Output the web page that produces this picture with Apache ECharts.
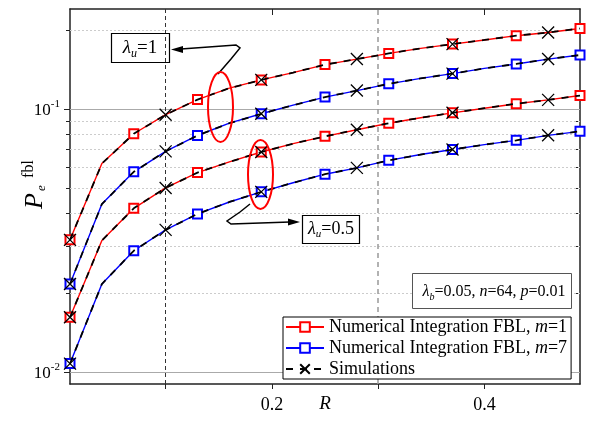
<!DOCTYPE html>
<html>
<head>
<meta charset="utf-8">
<script src="https://cdn.jsdelivr.net/npm/echarts@6/dist/echarts.min.js"></script>
<style>
  html, body { margin: 0; padding: 0; background: #fff; }
  #main { width: 589px; height: 422px; }
</style>
</head>
<body>
<div id="main"></div>
<script>
// rate R, sampled every 0.03
const rates = [0.01, 0.04, 0.07, 0.10, 0.13, 0.16, 0.19, 0.22, 0.25, 0.28, 0.31, 0.34, 0.37, 0.40, 0.43, 0.46, 0.49]

// numerical integration, lambda_u = 1
const numLu1M1 = [0.0318, 0.062, 0.0805, 0.0951, 0.1086, 0.120, 0.129, 0.1375, 0.1475, 0.1548, 0.1627, 0.170, 0.1765, 0.183, 0.190, 0.1954, 0.2023]
const numLu1M7 = [0.0216, 0.0435, 0.0577, 0.069, 0.0793, 0.0883, 0.0959, 0.1034, 0.111, 0.1175, 0.1246, 0.1308, 0.1363, 0.1427, 0.1483, 0.1548, 0.1604]
// numerical integration, lambda_u = 0.5
const numLu05M1 = [0.01614, 0.0316, 0.0419, 0.0501, 0.0573, 0.0629, 0.0686, 0.0738, 0.0787, 0.0834, 0.0883, 0.0926, 0.0967, 0.1007, 0.1047, 0.1083, 0.1125]
const numLu05M7 = [0.01076, 0.0216, 0.0289, 0.0347, 0.0399, 0.0443, 0.0484, 0.0524, 0.0565, 0.0597, 0.0638, 0.0671, 0.0701, 0.0732, 0.076, 0.0794, 0.0822]

// simulations sit on the same curves
const simLu1M1 = [0.0318, 0.062, 0.0805, 0.0951, 0.1086, 0.120, 0.129, 0.1375, 0.1475, 0.1548, 0.1627, 0.170, 0.1765, 0.183, 0.190, 0.1954, 0.2023]
const simLu1M7 = [0.0216, 0.0435, 0.0577, 0.069, 0.0793, 0.0883, 0.0959, 0.1034, 0.111, 0.1175, 0.1246, 0.1308, 0.1363, 0.1427, 0.1483, 0.1548, 0.1604]
const simLu05M1 = [0.01614, 0.0316, 0.0419, 0.0501, 0.0573, 0.0629, 0.0686, 0.0738, 0.0787, 0.0834, 0.0883, 0.0926, 0.0967, 0.1007, 0.1047, 0.1083, 0.1125]
const simLu05M7 = [0.01076, 0.0216, 0.0289, 0.0347, 0.0399, 0.0443, 0.0484, 0.0524, 0.0565, 0.0597, 0.0638, 0.0671, 0.0701, 0.0732, 0.076, 0.0794, 0.0822]

// axes
const xMin = 0.01, xMax = 0.49
const xTicks = [0.1, 0.2, 0.3, 0.4]
const xLabels = [0.2, 0.4]
const xDashed = [0.1, 0.3]
const yMin = 0.009, yMax = 0.24
const yMajor = [0.01, 0.1]
const yMinor = [0.02, 0.03, 0.04, 0.05, 0.06, 0.07, 0.08, 0.09, 0.2]

const legendNames = ['Numerical Integration FBL, m=1', 'Numerical Integration FBL, m=7', 'Simulations']

const SERIF = '"Liberation Serif", "Times New Roman", serif'
const CROSS = 'path://M0,0L10,10M10,0L0,10'

function numSeries(name, vals, color) {
  return {
    name: name,
    type: 'line',
    symbol: 'emptyRect',
    symbolSize: 9,
    z: 2,
    data: vals.map((v, i) => ({ value: [rates[i], v], symbol: i % 2 === 0 ? 'emptyRect' : 'none' })),
    lineStyle: { color: color, width: 1.4 },
    itemStyle: { color: color, borderWidth: 1.4 },
  }
}
function simSeries(vals) {
  return {
    name: 'Simulations',
    type: 'line',
    symbol: CROSS,
    symbolSize: 12,
    z: 3,
    data: vals.map((v, i) => ({ value: [rates[i], v], symbol: i % 3 === 0 ? CROSS : 'none' })),
    lineStyle: { color: '#000', width: 1.8, type: [7, 7] },
    itemStyle: { color: '#000', borderColor: '#000', borderWidth: 1.3 },
  }
}

// grid lines as mark lines, below the curves
let gridLines = []
yMajor.forEach((v) => gridLines.push({ yAxis: v, lineStyle: { color: '#aaa', width: 1, type: 'solid' } }))
yMinor.forEach((v) => gridLines.push({ yAxis: v, lineStyle: { color: '#ccc', width: 1, type: [2, 2] } }))
gridLines.push({ xAxis: xDashed[0], lineStyle: { color: '#333', width: 1, type: [4, 3] } })
gridLines.push({ xAxis: xDashed[1], lineStyle: { color: '#999', width: 1.5, type: [5, 4] } })

let series = [
  numSeries(legendNames[0], numLu1M1, '#ff0000'),
  numSeries(legendNames[1], numLu1M7, '#0000ff'),
  numSeries(legendNames[0], numLu05M1, '#ff0000'),
  numSeries(legendNames[1], numLu05M7, '#0000ff'),
  simSeries(simLu1M1),
  simSeries(simLu1M7),
  simSeries(simLu05M1),
  simSeries(simLu05M7),
]
series[0].markLine = {
  z: 1,
  silent: true,
  animation: false,
  symbol: ['none', 'none'],
  label: { show: false },
  data: gridLines,
}

function logAxis(pos, ticks, len, inside, showLine, showLabel) {
  return {
    type: 'log',
    logBase: 10,
    min: yMin,
    max: yMax,
    position: pos,
    axisLine: { show: showLine, onZero: false, lineStyle: { color: '#222', width: 1.5 } },
    axisTick: { show: true, inside: inside, length: len, customValues: ticks, lineStyle: { color: '#222', width: 1 } },
    axisLabel: {
      show: showLabel,
      customValues: ticks,
      margin: 10,
      formatter: (v) => '{b|10}{s|' + Math.round(Math.log10(v)) + '}',
      rich: {
        b: { fontFamily: SERIF, fontSize: 17, color: '#000', lineHeight: 20, verticalAlign: 'bottom' },
        s: { fontFamily: SERIF, fontSize: 11, color: '#000', lineHeight: 11, verticalAlign: 'top' },
      },
    },
    splitLine: { show: false },
    minorTick: { show: false },
    minorSplitLine: { show: false },
  }
}

var myChart = echarts.init(document.getElementById('main'))
let option = {
  animation: false,
  backgroundColor: '#fff',
  grid: { left: 70, right: 9, top: 9, bottom: 38, containLabel: false, outerBoundsMode: 'none' },
  xAxis: [
    {
      type: 'value',
      min: xMin,
      max: xMax,
      position: 'bottom',
      axisLine: { onZero: false, lineStyle: { color: '#222', width: 1.5 } },
      axisTick: { show: true, inside: false, length: 5, customValues: xTicks, lineStyle: { color: '#222' } },
      axisLabel: {
        customValues: xLabels,
        margin: 12,
        formatter: (v) => v.toFixed(1),
        fontFamily: SERIF,
        fontSize: 18,
        color: '#000',
      },
      splitLine: { show: false },
      name: 'R',
      nameLocation: 'middle',
      nameGap: 10,
      nameMoveOverlap: false,
      nameTextStyle: { fontFamily: SERIF, fontStyle: 'italic', fontSize: 19, color: '#000', verticalAlign: 'top' },
    },
    {
      type: 'value',
      min: xMin,
      max: xMax,
      position: 'top',
      axisLine: { onZero: false, lineStyle: { color: '#222', width: 1.5 } },
      axisTick: { show: true, inside: true, length: 6, customValues: xLabels, lineStyle: { color: '#222' } },
      axisLabel: { show: false },
      splitLine: { show: false },
    },
  ],
  yAxis: [
    logAxis('left', yMajor, 6, false, true, true),
    logAxis('left', yMinor, 4, false, false, false),
    logAxis('right', yMajor, 6, true, true, false),
    logAxis('right', yMinor, 4, true, false, false),
  ],
  legend: {
    orient: 'vertical',
    left: 283,
    top: 317,
    data: legendNames,
    itemWidth: 38,
    itemHeight: 12,
    itemGap: 3,
    padding: [1, 4, 1, 2],
    backgroundColor: '#fff',
    borderColor: '#000',
    borderWidth: 1,
    borderRadius: 0,
    selectedMode: false,
    formatter: (name) => {
      if (name === 'Simulations') return '{n|Simulations}'
      let m = name.split('m=')[1]
      return '{n|Numerical Integration FBL, }{i|m}{n|=' + m + '}'
    },
    textStyle: {
      color: '#000',
      fontFamily: SERIF,
      fontSize: 18,
      lineHeight: 18,
      rich: {
        n: { fontFamily: SERIF, fontSize: 18, color: '#000', lineHeight: 18 },
        i: { fontFamily: SERIF, fontSize: 18, fontStyle: 'italic', color: '#000', lineHeight: 18 },
      },
    },
  },
  graphic: [
    // y axis title P_e^fbl, rotated
    {
      type: 'group', x: 35, y: 185, rotation: Math.PI / 2, z: 10,
      children: [
        { type: 'text', x: -16, y: 0, style: { text: 'P', font: 'italic 26px ' + SERIF, fill: '#000', align: 'center', verticalAlign: 'middle' } },
        { type: 'text', x: -3, y: 7, style: { text: 'e', font: 'italic 13px ' + SERIF, fill: '#000', align: 'center', verticalAlign: 'middle' } },
        { type: 'text', x: 16, y: -6, style: { text: 'fbl', font: '16px ' + SERIF, fill: '#000', align: 'center', verticalAlign: 'middle' } },
      ],
    },
    // lambda_u = 1 note
    { type: 'rect', z: 10, shape: { x: 111.5, y: 33.5, width: 58, height: 29 }, style: { fill: 'none', stroke: '#000', lineWidth: 1.2 } },
    {
      type: 'text', z: 10, x: 140, y: 48,
      style: {
        text: '{l|λ}{s|u}{n|=1}', align: 'center', verticalAlign: 'middle',
        rich: {
          l: { font: 'italic 19px ' + SERIF, fill: '#000', lineHeight: 24 },
          s: { font: 'italic 12px ' + SERIF, fill: '#000', lineHeight: 12, verticalAlign: 'bottom' },
          n: { font: '19px ' + SERIF, fill: '#000', lineHeight: 24 },
        },
      },
    },
    { type: 'polyline', z: 10, shape: { points: [[218, 74], [231, 59], [240, 48], [236, 45], [181, 49]] }, style: { fill: 'none', stroke: '#000', lineWidth: 1.5 } },
    { type: 'polygon', z: 10, shape: { points: [[171, 49.5], [183, 46], [183, 53]] }, style: { fill: '#000' } },
    { type: 'ellipse', z: 10, shape: { cx: 220.5, cy: 107, rx: 12.5, ry: 35 }, style: { fill: 'none', stroke: '#f00', lineWidth: 2 } },
    { type: 'ellipse', z: 10, shape: { cx: 260.5, cy: 174.5, rx: 12.5, ry: 34.5 }, style: { fill: 'none', stroke: '#f00', lineWidth: 2 } },
    // lambda_u = 0.5 note
    { type: 'polyline', z: 10, shape: { points: [[250, 204], [240, 212], [227, 221], [231, 224], [290, 222]] }, style: { fill: 'none', stroke: '#000', lineWidth: 1.5 } },
    { type: 'polygon', z: 10, shape: { points: [[300, 222], [288, 218.5], [288, 225.5]] }, style: { fill: '#000' } },
    { type: 'rect', z: 10, shape: { x: 302.5, y: 215.5, width: 57, height: 28 }, style: { fill: '#fff', stroke: '#000', lineWidth: 1.2 } },
    {
      type: 'text', z: 11, x: 331, y: 229,
      style: {
        text: '{l|λ}{s|u}{n|=0.5}', align: 'center', verticalAlign: 'middle',
        rich: {
          l: { font: 'italic 18px ' + SERIF, fill: '#000', lineHeight: 22 },
          s: { font: 'italic 11px ' + SERIF, fill: '#000', lineHeight: 11, verticalAlign: 'bottom' },
          n: { font: '18px ' + SERIF, fill: '#000', lineHeight: 22 },
        },
      },
    },
    // parameter box
    { type: 'rect', z: 10, shape: { x: 412.5, y: 273.5, width: 159, height: 35 }, style: { fill: '#fff', stroke: '#555', lineWidth: 1 } },
    {
      type: 'text', z: 11, x: 494, y: 292,
      style: {
        text: '{l|λ}{s|b}{n|=0.05, }{i|n}{n|=64, }{i|p}{n|=0.01}', align: 'center', verticalAlign: 'middle',
        rich: {
          l: { font: 'italic 16px ' + SERIF, fill: '#000', lineHeight: 20 },
          s: { font: 'italic 10px ' + SERIF, fill: '#000', lineHeight: 10, verticalAlign: 'bottom' },
          n: { font: '16px ' + SERIF, fill: '#000', lineHeight: 20 },
          i: { font: 'italic 16px ' + SERIF, fill: '#000', lineHeight: 20 },
        },
      },
    },
  ],
  series: series,
}
myChart.setOption(option)
</script>
</body>
</html>
